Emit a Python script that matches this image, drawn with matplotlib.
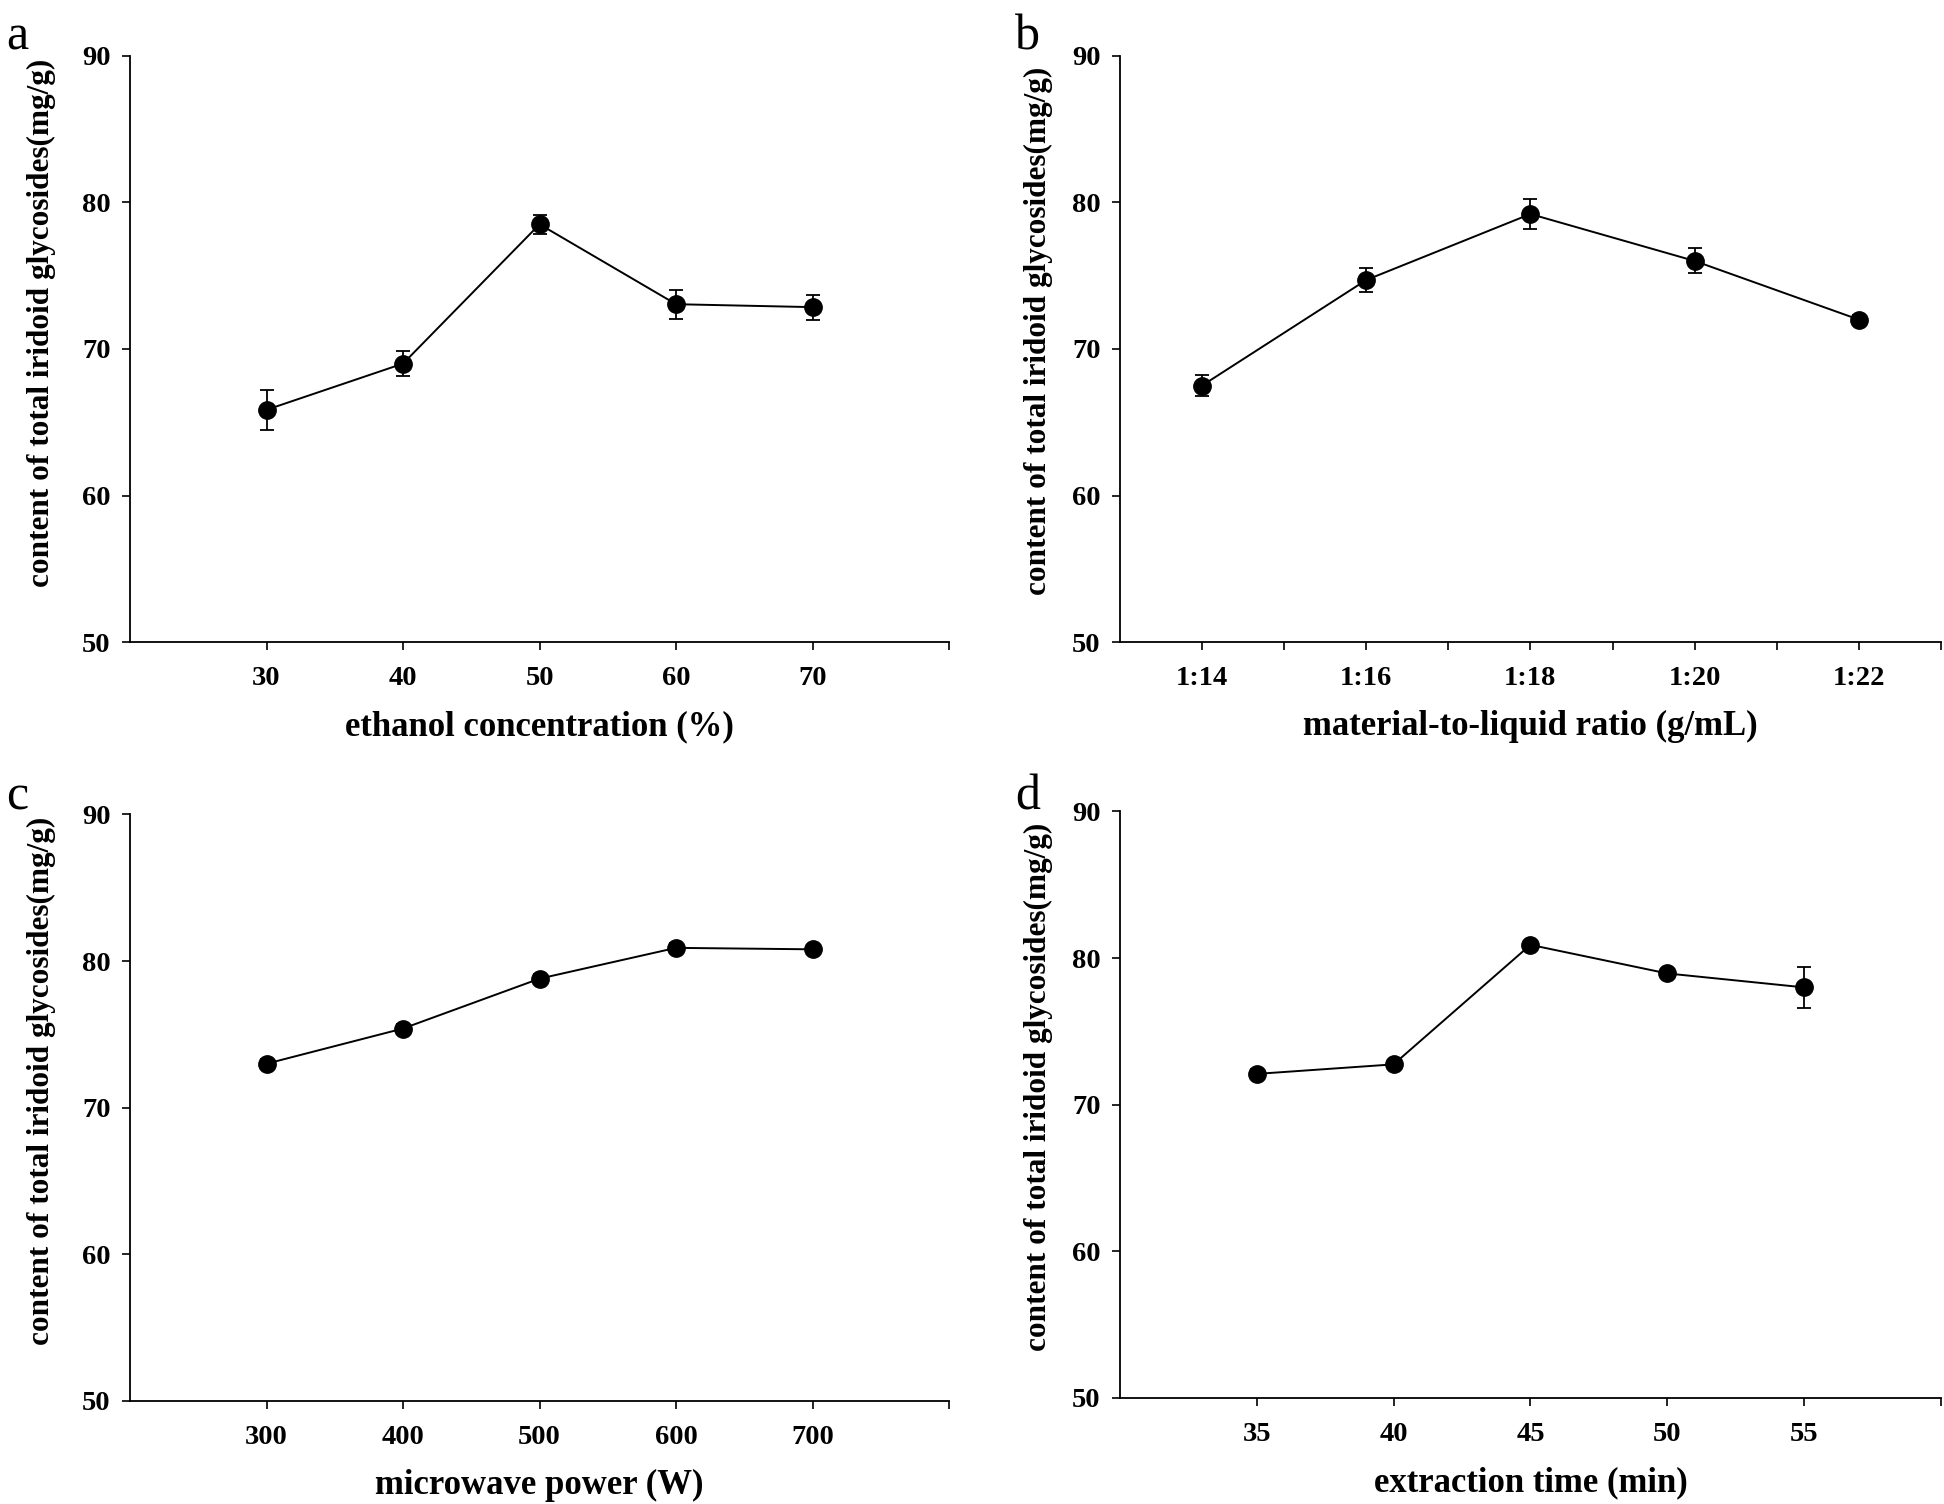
import numpy as np
import matplotlib
matplotlib.use("Agg")
import matplotlib.pyplot as plt

plt.rcParams['font.family'] = ['Liberation Serif', 'DejaVu Serif']

# panel a: ethanol concentration
ethanol = [30, 40, 50, 60, 70]
ethanol_y = [65.85, 69.0, 78.5, 73.05, 72.85]
ethanol_err = [1.35, 0.85, 0.65, 1.0, 0.85]

# panel b: material-to-liquid ratio
ratio = [14, 16, 18, 20, 22]
ratio_labels = ['1:14', '1:16', '1:18', '1:20', '1:22']
ratio_y = [67.5, 74.7, 79.2, 76.0, 72.0]
ratio_err = [0.7, 0.85, 1.05, 0.85, 0.3]

# panel c: microwave power
power = [300, 400, 500, 600, 700]
power_y = [73.0, 75.4, 78.8, 80.9, 80.8]
power_err = [0.3, 0.3, 0.3, 0.3, 0.2]

# panel d: extraction time
time_min = [35, 40, 45, 50, 55]
time_y = [72.1, 72.75, 80.9, 78.95, 78.0]
time_err = [0.3, 0.2, 0.25, 0.3, 1.4]

ylabel = 'content of total iridoid glycosides(mg/g)'

fig = plt.figure(figsize=(19.44, 15.04), dpi=100)

panels = [
    # rect, x, y, err, xlim, xlabel, letter, letter pos, ylabel pos
    ([0.0669, 0.573, 0.4213, 0.390], ethanol, ethanol_y, ethanol_err, (20, 80),
     'ethanol concentration (%)', 'a', (0.003, 0.975), (-0.090, 0.545)),
    ([0.5761, 0.573, 0.4223, 0.390], ratio, ratio_y, ratio_err, (13, 23),
     'material-to-liquid ratio (g/mL)', 'b', (0.522, 0.975), (-0.082, 0.53)),
    ([0.0669, 0.0685, 0.4213, 0.390], power, power_y, power_err, (200, 800),
     'microwave power (W)', 'c', (0.003, 0.47), (-0.090, 0.545)),
    ([0.5761, 0.0705, 0.4223, 0.390], time_min, time_y, time_err, (30, 60),
     'extraction time (min)', 'd', (0.522, 0.47), (-0.082, 0.53)),
]

for i, (rect, x, y, err, xlim, xlab, letter, lpos, ypos) in enumerate(panels):
    ax = fig.add_axes(rect)
    ax.errorbar(x, y, yerr=err, color='black', lw=1.4, marker='o', ms=12.5,
                capsize=5, elinewidth=1.3, capthick=1.3)
    ax.set_xlim(*xlim)
    ax.set_ylim(50, 90)
    ax.set_yticks([50, 60, 70, 80, 90])

    ax.set_xticks(x + [xlim[1]])
    if i == 1:
        ax.set_xticklabels(ratio_labels + [''])
        ax.set_xticks([15, 17, 19, 21], minor=True)
    else:
        ax.set_xticklabels([str(v) for v in x] + [''])

    for s in ['top', 'right']:
        ax.spines[s].set_visible(False)
    for s in ['left', 'bottom']:
        ax.spines[s].set_linewidth(1.3)
    ax.tick_params(axis='both', which='both', direction='out', width=1.2,
                   labelsize=20.5)
    ax.tick_params(axis='both', which='major', length=6)
    ax.tick_params(axis='x', which='minor', length=6)
    ax.tick_params(axis='x', pad=11)
    ax.tick_params(axis='y', pad=8)
    for lab in ax.get_xticklabels() + ax.get_yticklabels():
        lab.set_fontweight('bold')

    ax.set_xlabel(xlab, fontsize=25, fontweight='bold', labelpad=14)
    ax.set_ylabel(ylabel, fontsize=22.5, fontweight='bold')
    ax.yaxis.set_label_coords(*ypos)

    fig.text(lpos[0], lpos[1], letter, fontsize=36, ha='left', va='center')

fig.savefig('out.png', dpi=100)
